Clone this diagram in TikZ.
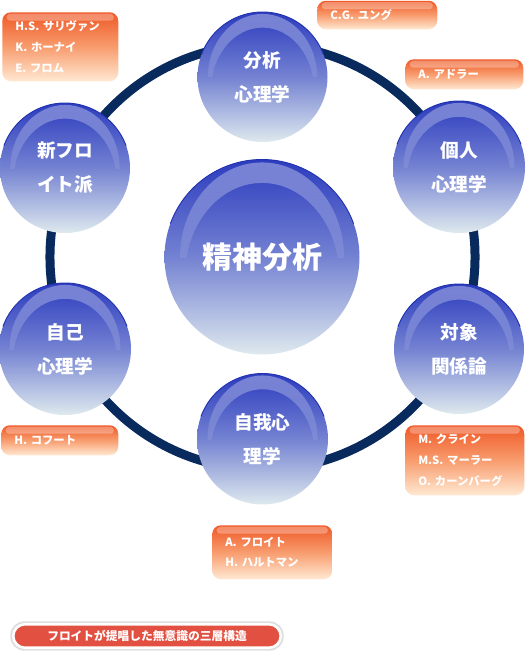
\documentclass[tikz,border=0pt]{standalone}
\usepackage{fontspec}
\setmainfont{Noto Sans CJK JP}
\usetikzlibrary{fadings,calc}
\definecolor{ringc}{HTML}{082A5C}
\definecolor{btop}{HTML}{2C3CBE}
\definecolor{bmid}{HTML}{7482D2}
\definecolor{bbot}{HTML}{DEE9EE}
\definecolor{brim}{HTML}{2233B0}
\definecolor{otop}{HTML}{EF5826}
\definecolor{omid}{HTML}{F89C6E}
\definecolor{obot}{HTML}{FFE9D2}
\definecolor{bannerc}{HTML}{E25042}
\tikzfading[name=fadedown, top color=transparent!0, bottom color=transparent!100, middle color=transparent!85]
\tikzset{
  ball/.style={circle, inner sep=0pt, outer sep=0pt, text=white, align=center,
    top color=btop, bottom color=bbot, middle color=bmid,
    font=\bfseries\fontsize{14}{25.5}\selectfont},
  bigball/.style={font=\bfseries\fontsize{22.5}{26}\selectfont},
  obox/.style={rectangle, rounded corners=6.5pt, inner xsep=9.75pt, inner ysep=0pt,
    top color=otop, bottom color=obot, middle color=omid, text=white, align=left,
    anchor=north west, font=\bfseries\fontsize{8.5}{15.5}\selectfont},
  ring/.style={draw=ringc, line width=6.75pt},
  banner/.style={rectangle, rounded corners=8.8pt, minimum width=200.6pt, minimum height=17.6pt,
    fill=bannerc, draw=white, line width=1.9pt, text=white, inner sep=0pt,
    font=\bfseries\fontsize{8.8}{10}\selectfont},
  bannershadow/.style={rectangle, rounded corners=10.5pt, minimum width=205pt, minimum height=22pt,
    fill=black!13, inner sep=0pt}
}
\newcommand\drawball[6]{%
  \node[ball, minimum size={1.5*#4pt}, #6] (#1) at (#2,#3) {#5};
  \pgfmathsetmacro\R{0.75*#4}
  \begin{scope}
    \clip ($(#1.center)+(-\R pt,0pt)$) rectangle ($(#1.center)+(\R pt,\R pt)$);
    \fill[white, opacity=0.36, even odd rule, path fading=fadedown]
      (#1.center) ellipse[x radius=0.84*\R pt, y radius=0.97*\R pt]
      ($(#1.center)+(0pt,-0.19*\R pt)$) ellipse[x radius=0.79*\R pt, y radius=0.95*\R pt];
  \end{scope}
  \draw[brim, line width=0.7pt] (#1.160) arc[start angle=160, end angle=20, radius=\R pt];
}
\newcommand\drawbox[6]{%
  \pgfmathsetlengthmacro\tw{0.75*(#4-#2)*1pt-19.5pt}
  \pgfmathsetlengthmacro\th{0.75*(#5-#3)*1pt}
  \node[obox, text width=\tw, minimum height=\th] (#1) at (#2,#3) {#6};
  \fill[white, opacity=0.3, rounded corners=2.5pt]
    ($(#1.north west)+(3.5pt,-1.3pt)$) rectangle ($(#1.north east)+(-3.5pt,-6.5pt)$);
}
\begin{document}
\begin{tikzpicture}[x=0.75pt, y=-0.75pt]
\useasboundingbox (0,0) rectangle (525,660);
% ring
\coordinate (rc) at (262.5,257);
\draw[ring] (rc) circle[radius=159.4pt];
% balls
\drawball{main}{262}{257}{97.5}{精神分析}{bigball}
\drawball{bunseki}{262.5}{77}{65}{分析\\心理学}{}
\drawball{kojin}{459}{167}{66}{個人\\心理学}{}
\drawball{taisho}{459}{349}{65}{対象\\関係論}{}
\drawball{jiga}{262.5}{439}{65.5}{自我心\\理学}{}
\drawball{jiko}{65}{349}{66}{自己\\心理学}{}
\drawball{shinfreud}{65}{168}{65}{新フロ\\イト派}{}
% orange boxes
\drawbox{bsul}{2}{12}{118}{81}{H.S. サリヴァン\\K. ホーナイ\\E. フロム}
\drawbox{bjung}{317}{0.5}{437}{29}{C.G. ユング}
\drawbox{badler}{405}{59}{523}{89}{A. アドラー}
\drawbox{bklein}{405}{425}{524}{495}{M. クライン\\M.S. マーラー\\O. カーンバーグ}
\drawbox{bfreud}{212}{525}{332}{579}{A. フロイト\\H. ハルトマン}
\drawbox{bkohut}{1}{425}{118}{455}{H. コフート}
% banner
\node[bannershadow] (bsh) at (147,636) {};
\node[banner] (bn) at (147,636) {フロイトが提唱した無意識の三層構造};
\end{tikzpicture}
\end{document}
